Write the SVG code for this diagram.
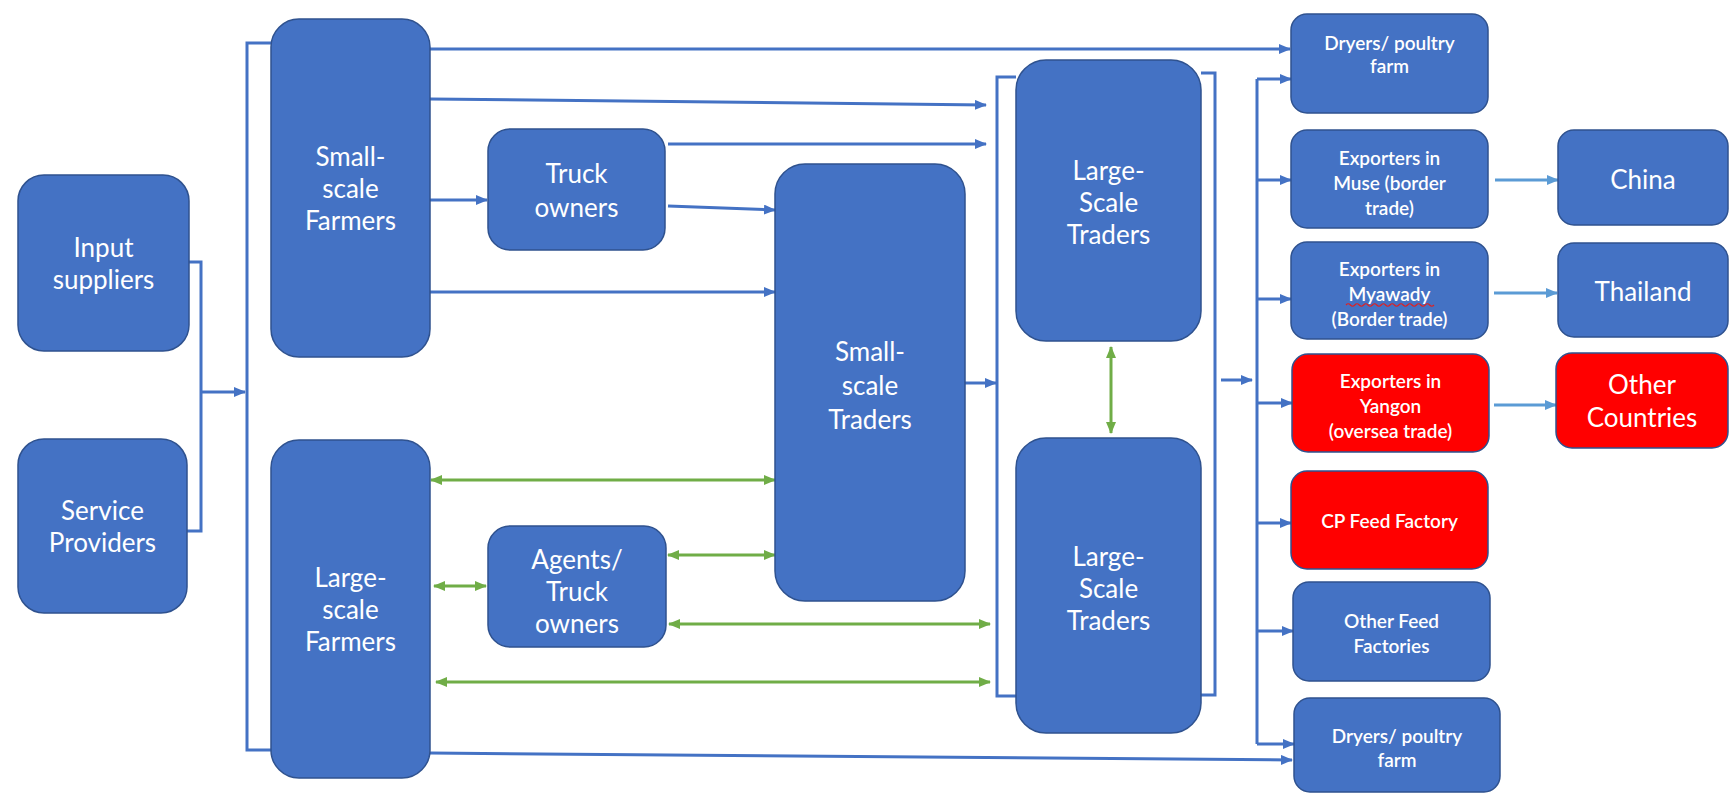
<svg xmlns="http://www.w3.org/2000/svg" width="1729" height="794" viewBox="0 0 1729 794">
  <style>
    .box { fill: #4472C4; stroke: #2F528F; stroke-width: 1.5; }
    .red { fill: #FF0000; stroke: #2F528F; stroke-width: 1.5; }
    .lbl { font-family: Lato, "Open Sans", "Liberation Sans", sans-serif; fill: #FFFFFF; text-anchor: middle; dominant-baseline: central; }
    .big { font-size: 26px; }
    .mid { font-size: 26px; }
    .small { font-size: 19px; font-weight: 600; }
    .flow { fill: none; stroke: #4472C4; stroke-width: 3; }
    .flow-arrow { fill: none; stroke: #4472C4; stroke-width: 3; marker-end: url(#ah-blue); }
    .export { fill: none; stroke: #5B9BD5; stroke-width: 3; marker-end: url(#ah-light); }
    .link { fill: none; stroke: #70AD47; stroke-width: 3; marker-start: url(#ah-green); marker-end: url(#ah-green); }
  </style>
  <defs>
    <marker id="ah-blue" viewBox="0 0 12 10" refX="11" refY="5" markerWidth="12" markerHeight="10" markerUnits="userSpaceOnUse" orient="auto">
      <path d="M0,0 L12,5 L0,10 Z" fill="#4472C4"/>
    </marker>
    <marker id="ah-light" viewBox="0 0 12 10" refX="11" refY="5" markerWidth="12" markerHeight="10" markerUnits="userSpaceOnUse" orient="auto">
      <path d="M0,0 L12,5 L0,10 Z" fill="#5B9BD5"/>
    </marker>
    <marker id="ah-green" viewBox="0 0 12 10" refX="11" refY="5" markerWidth="12" markerHeight="10" markerUnits="userSpaceOnUse" orient="auto-start-reverse">
      <path d="M0,0 L12,5 L0,10 Z" fill="#70AD47"/>
    </marker>
  </defs>

  <rect width="1729" height="794" fill="#FFFFFF"/>

  <!-- connectors -->
  <g id="connectors">
    <!-- inputs and services feeding the farmer bus -->
    <path class="flow" d="M189,262 H201 V531 H187"/>
    <path class="flow-arrow" d="M201,392 H245"/>
    <path class="flow" d="M271,43 H247 V750 H271"/>

    <!-- small-scale farmers outflows -->
    <path class="flow-arrow" d="M430,49 H1290"/>
    <path class="flow-arrow" d="M430,99 L986,105"/>
    <path class="flow-arrow" d="M430,200 H487"/>
    <path class="flow-arrow" d="M430,292 H775"/>

    <!-- truck owners outflows -->
    <path class="flow-arrow" d="M668,144 H986"/>
    <path class="flow-arrow" d="M668,206 L775,210"/>

    <!-- small-scale traders into the large trader bracket -->
    <path class="flow-arrow" d="M965,383 H996"/>

    <!-- bracket around the large-scale traders -->
    <path class="flow" d="M1016,77 H997 V696 H1016"/>
    <path class="flow" d="M1201,73 H1215 V695 H1201"/>
    <path class="flow-arrow" d="M1221,380 H1252"/>

    <!-- distribution bus to buyers -->
    <path class="flow" d="M1257,79 V744"/>
    <path class="flow-arrow" d="M1257,79 H1291"/>
    <path class="flow-arrow" d="M1257,180 H1291"/>
    <path class="flow-arrow" d="M1257,299 H1291"/>
    <path class="flow-arrow" d="M1257,403 H1292"/>
    <path class="flow-arrow" d="M1257,523 H1291"/>
    <path class="flow-arrow" d="M1257,631 H1293"/>
    <path class="flow-arrow" d="M1257,744 H1294"/>

    <!-- large-scale farmers to dryers -->
    <path class="flow-arrow" d="M430,753 L1292,760"/>

    <!-- exports -->
    <path class="export" d="M1495,180 H1558"/>
    <path class="export" d="M1494,293 H1557"/>
    <path class="export" d="M1494,405 H1556"/>

    <!-- two-way links -->
    <path class="link" d="M1111,347 V433"/>
    <path class="link" d="M431,480 H775"/>
    <path class="link" d="M434,586 H486"/>
    <path class="link" d="M668,555 H775"/>
    <path class="link" d="M669,624 H990"/>
    <path class="link" d="M436,682 H990"/>
  </g>

  <g id="input-suppliers">
    <rect class="box" x="18" y="175" width="171" height="176" rx="26"/>
    <text class="lbl big" x="103.5" y="247">Input</text>
    <text class="lbl big" x="103.5" y="279">suppliers</text>
  </g>

  <g id="service-providers">
    <rect class="box" x="18" y="439" width="169" height="174" rx="26"/>
    <text class="lbl big" x="102.5" y="510">Service</text>
    <text class="lbl big" x="102.5" y="542">Providers</text>
  </g>

  <g id="small-scale-farmers">
    <rect class="box" x="271" y="19" width="159" height="338" rx="28"/>
    <text class="lbl big" x="350.5" y="156">Small-</text>
    <text class="lbl big" x="350.5" y="188">scale</text>
    <text class="lbl big" x="350.5" y="220">Farmers</text>
  </g>

  <g id="large-scale-farmers">
    <rect class="box" x="271" y="440" width="159" height="338" rx="28"/>
    <text class="lbl big" x="350.5" y="577">Large-</text>
    <text class="lbl big" x="350.5" y="609">scale</text>
    <text class="lbl big" x="350.5" y="641">Farmers</text>
  </g>

  <g id="truck-owners">
    <rect class="box" x="488" y="129" width="177" height="121" rx="22"/>
    <text class="lbl big" x="576.5" y="173">Truck</text>
    <text class="lbl big" x="576.5" y="207">owners</text>
  </g>

  <g id="agents-truck-owners">
    <rect class="box" x="488" y="526" width="178" height="121" rx="22"/>
    <text class="lbl big" x="577" y="559">Agents/</text>
    <text class="lbl big" x="577" y="591">Truck</text>
    <text class="lbl big" x="577" y="623">owners</text>
  </g>

  <g id="small-scale-traders">
    <rect class="box" x="775" y="164" width="190" height="437" rx="30"/>
    <text class="lbl big" x="870" y="351">Small-</text>
    <text class="lbl big" x="870" y="385">scale</text>
    <text class="lbl big" x="870" y="419">Traders</text>
  </g>

  <g id="large-scale-traders-1">
    <rect class="box" x="1016" y="60" width="185" height="281" rx="30"/>
    <text class="lbl big" x="1108.5" y="170">Large-</text>
    <text class="lbl big" x="1108.5" y="202">Scale</text>
    <text class="lbl big" x="1108.5" y="234">Traders</text>
  </g>

  <g id="large-scale-traders-2">
    <rect class="box" x="1016" y="438" width="185" height="295" rx="30"/>
    <text class="lbl big" x="1108.5" y="556">Large-</text>
    <text class="lbl big" x="1108.5" y="588">Scale</text>
    <text class="lbl big" x="1108.5" y="620">Traders</text>
  </g>

  <g id="dryers-top">
    <rect class="box" x="1291" y="14" width="197" height="99" rx="16"/>
    <text class="lbl small" x="1389.5" y="42">Dryers/ poultry</text>
    <text class="lbl small" x="1389.5" y="65">farm</text>
  </g>

  <g id="exporters-muse">
    <rect class="box" x="1291" y="130" width="197" height="98" rx="16"/>
    <text class="lbl small" x="1389.5" y="157">Exporters in</text>
    <text class="lbl small" x="1389.5" y="182">Muse (border</text>
    <text class="lbl small" x="1389.5" y="207">trade)</text>
  </g>

  <g id="exporters-myawady">
    <rect class="box" x="1291" y="242" width="197" height="97" rx="16"/>
    <text class="lbl small" x="1389.5" y="268">Exporters in</text>
    <text class="lbl small" x="1389.5" y="293">Myawady</text>
    <path d="M1346,305 q2.2,-2.5 4.4,0 t4.4,0 t4.4,0 t4.4,0 t4.4,0 t4.4,0 t4.4,0 t4.4,0 t4.4,0 t4.4,0 t4.4,0 t4.4,0 t4.4,0 t4.4,0 t4.4,0 t4.4,0 t4.4,0 t4.4,0 t4.4,0 t4.4,0" fill="none" stroke="#E02020" stroke-width="1.2"/>
    <text class="lbl small" x="1389.5" y="318">(Border trade)</text>
  </g>

  <g id="exporters-yangon">
    <rect class="red" x="1292" y="354" width="197" height="98" rx="16"/>
    <text class="lbl small" x="1390.5" y="380">Exporters in</text>
    <text class="lbl small" x="1390.5" y="405">Yangon</text>
    <text class="lbl small" x="1390.5" y="430">(oversea trade)</text>
  </g>

  <g id="cp-feed-factory">
    <rect class="red" x="1291" y="471" width="197" height="98" rx="16"/>
    <text class="lbl small" x="1389.5" y="520">CP Feed Factory</text>
  </g>

  <g id="other-feed-factories">
    <rect class="box" x="1293" y="582" width="197" height="99" rx="16"/>
    <text class="lbl small" x="1391.5" y="620">Other Feed</text>
    <text class="lbl small" x="1391.5" y="645">Factories</text>
  </g>

  <g id="dryers-bottom">
    <rect class="box" x="1294" y="698" width="206" height="94" rx="16"/>
    <text class="lbl small" x="1397" y="735">Dryers/ poultry</text>
    <text class="lbl small" x="1397" y="759">farm</text>
  </g>

  <g id="china">
    <rect class="box" x="1558" y="130" width="170" height="95" rx="16"/>
    <text class="lbl mid" x="1643" y="179">China</text>
  </g>

  <g id="thailand">
    <rect class="box" x="1558" y="243" width="170" height="94" rx="16"/>
    <text class="lbl mid" x="1643" y="291">Thailand</text>
  </g>

  <g id="other-countries">
    <rect class="red" x="1556" y="353" width="172" height="95" rx="16"/>
    <text class="lbl mid" x="1642" y="384">Other</text>
    <text class="lbl mid" x="1642" y="417">Countries</text>
  </g>
</svg>
